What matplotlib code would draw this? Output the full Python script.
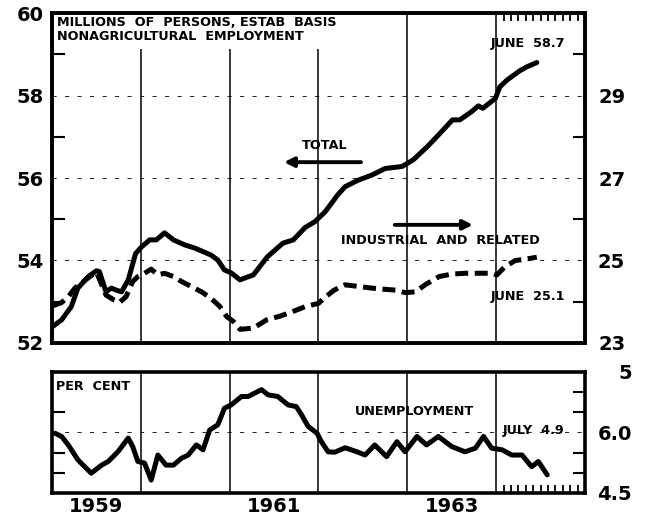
"""Nonagricultural employment and unemployment, 1959-64 (establishment basis)."""
import matplotlib
matplotlib.use("Agg")
import matplotlib.pyplot as plt  # noqa: E402

# months counted from Jan 1959
total_m = [0.1, 1.3, 2.6, 3.5, 4.9, 6.0, 6.4, 7.3, 8.0, 8.7, 9.4, 10.3, 11.3, 12.1,
           13.2, 14.1, 15.2, 16.4, 17.9, 19.3, 21.5, 22.4, 23.3, 24.2, 25.4, 27.2,
           29.1, 31.2, 32.6, 34.2, 35.5, 36.9, 38.6, 39.6, 41.4, 43.2, 45.0, 47.3,
           48.8, 50.7, 52.4, 54.1, 55.1, 56.7, 57.6, 58.2, 59.9, 60.5, 61.5, 63.2,
           64.2, 65.5]
total_v = [52.40, 52.56, 52.88, 53.33, 53.61, 53.75, 53.73, 53.24, 53.33, 53.28, 53.24,
           53.53, 54.17, 54.33, 54.50, 54.50, 54.67, 54.50, 54.38, 54.30, 54.13, 54.01,
           53.77, 53.70, 53.53, 53.65, 54.09, 54.42, 54.50, 54.80, 54.94, 55.18, 55.59,
           55.79, 55.95, 56.07, 56.23, 56.28, 56.44, 56.76, 57.08, 57.41, 57.41, 57.61,
           57.75, 57.69, 57.93, 58.21, 58.38, 58.60, 58.70, 58.80]

indus_m = [0.1, 1.3, 2.2, 3.1, 4.9, 6.0, 7.3, 8.4, 9.1, 10.0, 10.9, 11.6, 12.5, 13.4,
           14.3, 15.2, 16.4, 17.5, 18.8, 20.2, 21.5, 22.7, 23.6, 24.5, 25.4, 27.2,
           29.0, 30.8, 32.5, 34.2, 36.0, 36.7, 38.1, 39.6, 41.4, 43.2, 45.0, 46.5,
           47.7, 49.1, 50.4, 52.3, 54.0, 55.8, 57.6, 59.4, 60.1, 61.2, 62.6, 63.9, 65.5]
indus_v = [23.90, 23.98, 24.12, 24.33, 24.58, 24.72, 24.16, 24.04, 23.98, 24.12, 24.49,
           24.61, 24.69, 24.79, 24.65, 24.69, 24.61, 24.49, 24.37, 24.24, 24.08, 23.88,
           23.64, 23.52, 23.33, 23.36, 23.56, 23.65, 23.76, 23.88, 23.96, 24.08, 24.28,
           24.41, 24.37, 24.33, 24.30, 24.28, 24.22, 24.24, 24.41, 24.61, 24.67, 24.69,
           24.69, 24.69, 24.65, 24.85, 25.00, 25.03, 25.08]

unemp_m = [0.4, 1.3, 2.2, 3.5, 5.3, 6.7, 7.6, 8.9, 10.3, 10.9, 11.6, 12.5, 13.4, 14.3,
           15.4, 16.4, 17.5, 18.4, 19.5, 20.4, 21.3, 22.4, 23.3, 24.2, 25.6, 26.5,
           28.3, 29.2, 30.5, 31.9, 33.0, 33.7, 34.6, 35.8, 36.4, 37.3, 38.2, 39.6,
           41.2, 42.3, 43.6, 45.2, 46.6, 47.7, 49.3, 50.6, 52.2, 54.0, 55.8, 57.2,
           58.3, 59.4, 60.8, 62.1, 63.5, 64.8, 65.7, 66.9]
unemp_v = [5.98, 5.90, 5.69, 5.32, 4.99, 5.19, 5.28, 5.52, 5.86, 5.65, 5.28, 5.24, 4.82,
           5.44, 5.19, 5.19, 5.36, 5.44, 5.69, 5.57, 6.06, 6.19, 6.60, 6.68, 6.89, 6.89,
           7.06, 6.93, 6.89, 6.68, 6.64, 6.44, 6.15, 5.98, 5.77, 5.52, 5.51, 5.62, 5.52,
           5.44, 5.69, 5.40, 5.77, 5.52, 5.90, 5.69, 5.90, 5.65, 5.52, 5.61, 5.90, 5.61,
           5.57, 5.44, 5.44, 5.15, 5.28, 4.95]

year_pos = [6, 30, 54]
year_labels = ["1959", "1961", "1963"]
year_starts = [12, 24, 36, 48, 60]
months_1964 = list(range(61, 72))

plt.rcParams["font.family"] = "DejaVu Sans"
plt.rcParams["font.weight"] = "bold"

fig = plt.figure(figsize=(6.46, 5.22), dpi=100)
ax = fig.add_axes([0.0805, 0.343, 0.825, 0.632])
axr = ax.twinx()
bx = fig.add_axes([0.0805, 0.0556, 0.825, 0.232])

SMALL = dict(fontsize=9.2, fontweight="bold")
GRID_DASH = (0, (5, 10))

# ---- top panel: employment ----
for m in year_starts:
    ax.axvline(m, color="k", lw=1.1, zorder=1)
for v in [54, 56, 58]:
    ax.axhline(v, color="k", lw=0.6, ls=GRID_DASH, zorder=1)

ax.plot(total_m, total_v, color="k", lw=3.6, solid_capstyle="round", zorder=4)
axr.plot(indus_m, indus_v, color="k", lw=3.6, dashes=(2.6, 1.3),
         dash_capstyle="butt", zorder=4)

ax.set_xlim(0, 72)
ax.set_ylim(52, 60)
axr.set_ylim(23, 31)

ax.set_yticks([52, 54, 56, 58, 60])
ax.set_yticks([53, 55, 57, 59], minor=True)
ax.tick_params(axis="y", which="major", length=0, pad=6, labelsize=14)
ax.tick_params(axis="y", which="minor", direction="in", length=9, width=1.5)
for lab in ax.get_yticklabels():
    lab.set_fontweight("bold")

axr.set_yticks([23, 25, 27, 29])
axr.set_yticks([24, 26, 28, 30], minor=True)
axr.tick_params(axis="y", which="major", length=0, pad=29, labelsize=14)
axr.tick_params(axis="y", which="minor", direction="in", length=9, width=1.5)
for lab in axr.get_yticklabels():
    lab.set_fontweight("bold")
    lab.set_horizontalalignment("right")

ax.set_xticks([])
ax.set_xticks(months_1964, minor=True)
ax.tick_params(axis="x", which="minor", top=True, bottom=False, direction="in",
               length=6, width=1.3)

for a in (ax, axr):
    for s in a.spines.values():
        s.set_linewidth(2.6)

ax.text(0.01, 0.99, "MILLIONS  OF  PERSONS, ESTAB  BASIS\nNONAGRICULTURAL  EMPLOYMENT",
        transform=ax.transAxes, ha="left", va="top", linespacing=1.1, zorder=2,
        bbox=dict(facecolor="white", edgecolor="none", pad=4), **SMALL)
ax.text(0.9625, 0.909, "JUNE  58.7", transform=ax.transAxes, ha="right", va="center",
        **SMALL)
ax.text(0.512, 0.60, "TOTAL", transform=ax.transAxes, ha="center", va="center", **SMALL)
ax.annotate("", xy=(0.43, 0.548), xytext=(0.585, 0.548), xycoords="axes fraction",
            arrowprops=dict(arrowstyle="-|>", color="k", lw=2.8, mutation_scale=14))
ax.text(0.728, 0.312, "INDUSTRIAL  AND  RELATED", transform=ax.transAxes, ha="center",
        va="center", **SMALL)
ax.annotate("", xy=(0.795, 0.358), xytext=(0.638, 0.358), xycoords="axes fraction",
            arrowprops=dict(arrowstyle="-|>", color="k", lw=2.8, mutation_scale=14))
ax.text(0.9625, 0.142, "JUNE  25.1", transform=ax.transAxes, ha="right", va="center",
        **SMALL)

# ---- bottom panel: unemployment rate ----
for m in year_starts:
    bx.axvline(m, color="k", lw=1.1, zorder=1)
bx.axhline(6.0, color="k", lw=0.6, ls=GRID_DASH, zorder=1)
bx.plot(unemp_m, unemp_v, color="k", lw=3.6, solid_capstyle="round", zorder=4)

bx.set_xlim(0, 72)
bx.set_ylim(4.5, 7.5)
bx.set_yticks([4.5, 6.0, 7.5], ["4.5", "6.0", "5"])
bx.set_yticks([5.0, 5.5, 6.5, 7.0], minor=True)
bx.tick_params(axis="y", which="major", left=False, labelleft=False, right=True,
               labelright=True, length=0, pad=34, labelsize=14)
bx.tick_params(axis="y", which="minor", left=True, right=True, direction="in",
               length=9, width=1.5)
for lab in bx.get_yticklabels():
    lab.set_fontweight("bold")
    lab.set_horizontalalignment("right")

bx.set_xticks(year_pos, year_labels)
bx.set_xticks(months_1964, minor=True)
bx.tick_params(axis="x", which="major", length=0, pad=3, labelsize=14)
bx.tick_params(axis="x", which="minor", direction="in", length=6, width=1.3)
for lab in bx.get_xticklabels():
    lab.set_fontweight("bold")
for s in bx.spines.values():
    s.set_linewidth(2.6)

bx.text(0.008, 0.93, "PER  CENT", transform=bx.transAxes, ha="left", va="top", zorder=2,
        bbox=dict(facecolor="white", edgecolor="none", pad=3), **SMALL)
bx.text(0.68, 0.67, "UNEMPLOYMENT", transform=bx.transAxes, ha="center", va="center",
        **SMALL)
bx.text(0.9625, 0.52, "JULY  4.9", transform=bx.transAxes, ha="right", va="center",
        **SMALL)

fig.savefig("out.png", dpi=100, facecolor="white")
